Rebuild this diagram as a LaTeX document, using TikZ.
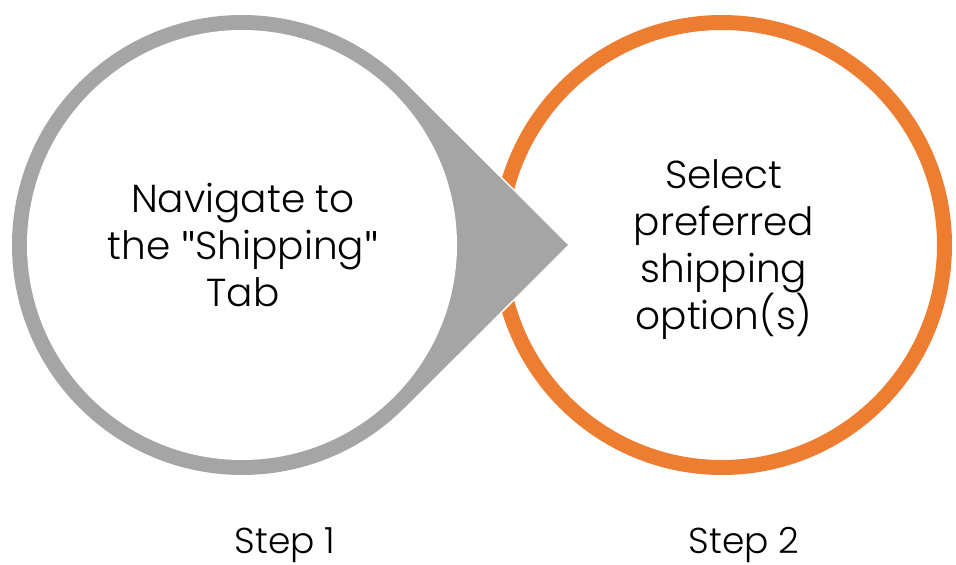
\documentclass[tikz,border=0pt]{standalone}
\usepackage{fontspec}
\setmainfont{Poppins}[UprightFont={* Light}]
\newfontfamily\quotefont{Lato}
\usetikzlibrary{calc}
\definecolor{ringgray}{HTML}{A5A5A5}
\definecolor{ringorange}{HTML}{ED7D31}
\begin{document}
\begin{tikzpicture}[x=1pt,y=1pt,
  steptext/.style={font=\fontsize{39}{47}\selectfont, text=black, align=center, inner sep=0pt},
  labeltext/.style={font=\fontsize{36}{43}\selectfont, text=black, inner sep=0pt, anchor=base}]
\useasboundingbox (0,0) rectangle (956,565);
% orange ring
\node[circle, draw=ringorange, line width=15pt, minimum size=445pt, inner sep=0pt] (c2) at (722,320) {};
% gray teardrop
\coordinate (g) at (242,320);
\coordinate (tip) at (568,320);
\fill[ringgray, draw=white, line width=3pt] (tip) -- ($(g)+(45.1:230)$) arc[start angle=45.1, end angle=314.9, radius=230] -- cycle;
\fill[ringgray] (tip) -- ($(g)+(45.1:230)$) arc[start angle=45.1, end angle=314.9, radius=230] -- cycle;
\node[circle, fill=white, minimum size=430pt, inner sep=0pt] (c1) at (g) {};
% texts
\node[steptext] (t1) at (243,320) {Navigate to\\the {\quotefont"}Shipping{\quotefont"}\\Tab};
\node[steptext] (t2) at (724,315) {Select\\preferred\\shipping\\option(s)};
\node[labeltext] (s1) at (285,11) {Step 1};
\node[labeltext] (s2) at (744,12) {Step 2};
\end{tikzpicture}
\end{document}
